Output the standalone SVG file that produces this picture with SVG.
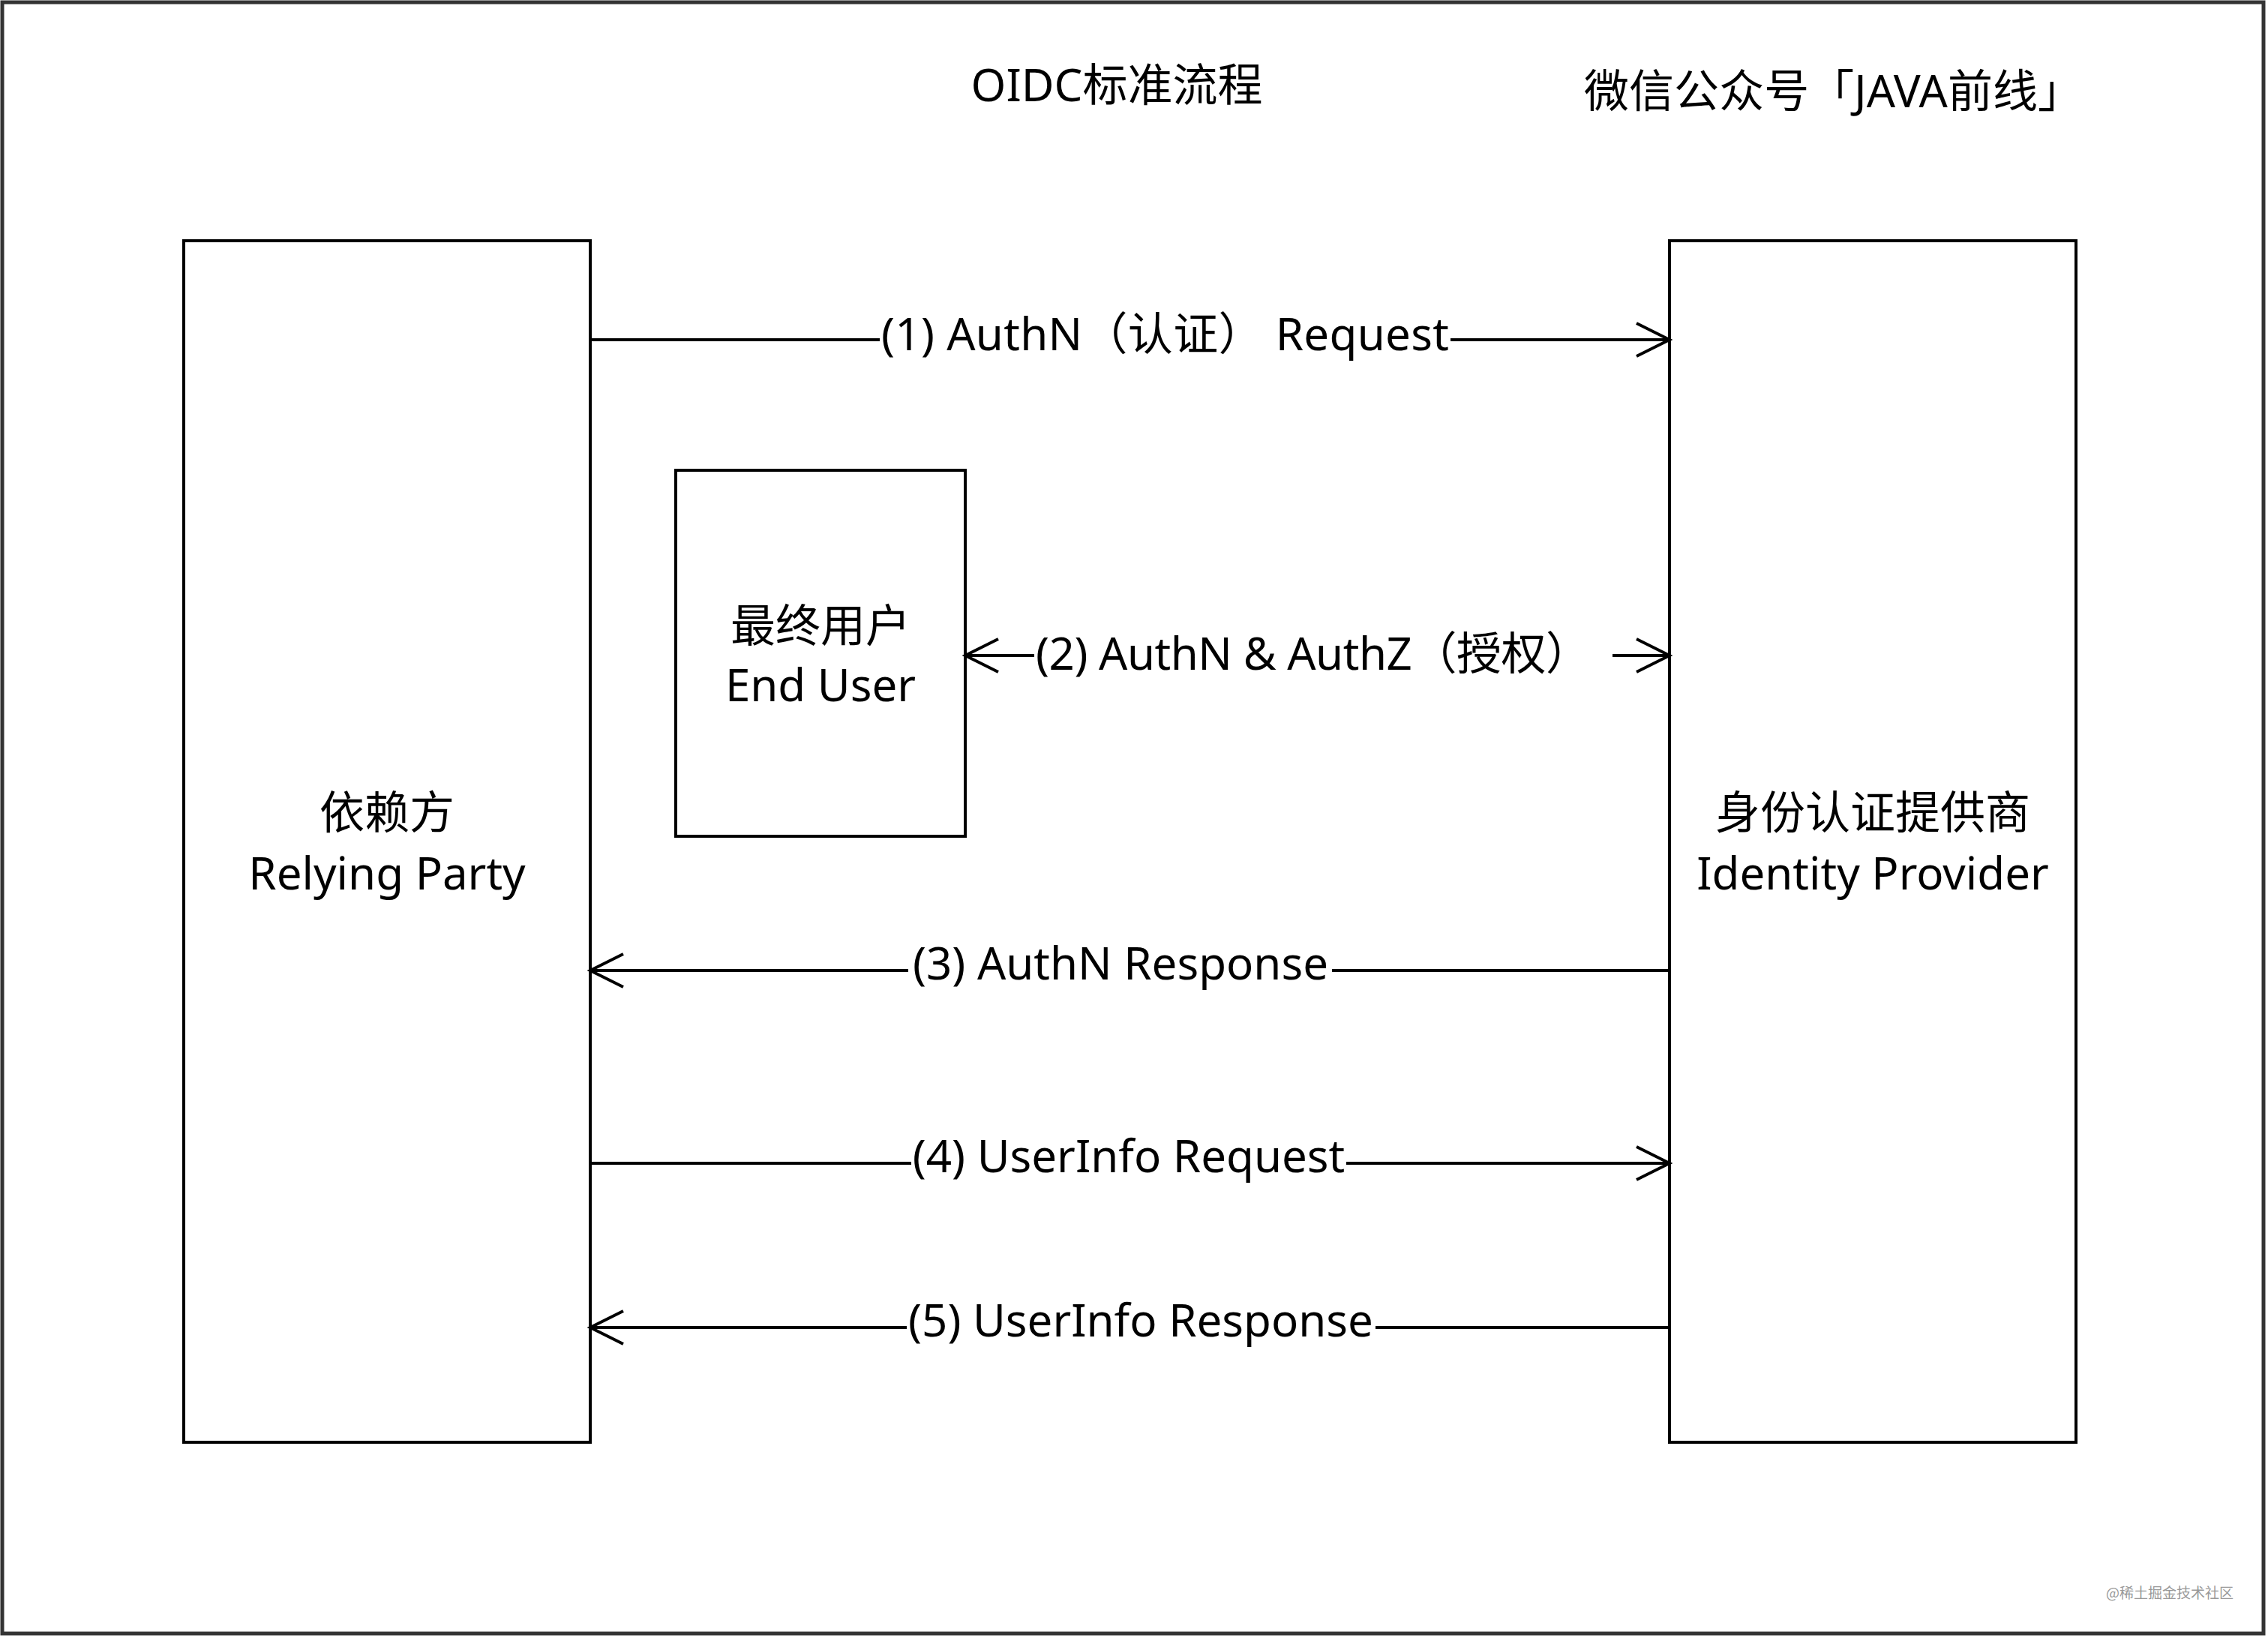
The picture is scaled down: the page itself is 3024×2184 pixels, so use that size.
<svg xmlns="http://www.w3.org/2000/svg" width="3024" height="2184" viewBox="0 0 3024 2184">
<defs>
<style>
.t{font-family:"Noto Sans","Noto Sans CJK SC",sans-serif;font-size:60px;fill:#000;}
.box{fill:#fff;stroke:#000;stroke-width:4;}
.ln{stroke:#000;stroke-width:4;fill:none;}
</style>
<marker id="ah" markerWidth="50" markerHeight="50" refX="46" refY="24" orient="auto" markerUnits="userSpaceOnUse">
<path d="M2,2 L46,24 L2,46" fill="none" stroke="#000" stroke-width="4"/>
</marker>
<marker id="ahs" markerWidth="50" markerHeight="50" refX="4" refY="24" orient="auto" markerUnits="userSpaceOnUse">
<path d="M48,2 L4,24 L48,46" fill="none" stroke="#000" stroke-width="4"/>
</marker>
</defs>
<rect x="0" y="0" width="3024" height="2184" fill="#fff"/>
<rect x="3" y="3" width="3015" height="2175" fill="none" stroke="#333" stroke-width="5"/>
<g id="title">
<text class="t" x="1489" y="135" text-anchor="middle">OIDC标准流程</text>
</g>
<g id="credit">
<text class="t" x="2112" y="143" textLength="665" lengthAdjust="spacing">微信公众号「JAVA前线」</text>
</g>
<g id="relying-party">
<rect class="box" x="245" y="321" width="542" height="1602"/>
<text class="t" x="516" y="1105" text-anchor="middle">依赖方</text>
<text class="t" x="516" y="1186" text-anchor="middle">Relying Party</text>
</g>
<g id="identity-provider">
<rect class="box" x="2226" y="321" width="542" height="1602"/>
<text class="t" x="2497" y="1105" text-anchor="middle">身份认证提供商</text>
<text class="t" x="2497" y="1186" text-anchor="middle">Identity Provider</text>
</g>
<g id="end-user">
<rect class="box" x="901" y="627" width="386" height="488"/>
<text class="t" x="1094" y="856" text-anchor="middle">最终用户</text>
<text class="t" x="1094" y="935" text-anchor="middle">End User</text>
</g>
<g id="connectors">
<line class="ln" x1="787" y1="453" x2="1173" y2="453"/>
<line class="ln" x1="1934" y1="453" x2="2226" y2="453" marker-end="url(#ah)"/>
<text class="t" x="1175" y="467" textLength="757" lengthAdjust="spacing">(1) AuthN（认证） Request</text>

<line class="ln" x1="1287" y1="874" x2="1379" y2="874" marker-start="url(#ahs)"/>
<line class="ln" x1="2150" y1="874" x2="2226" y2="874" marker-end="url(#ah)"/>
<text class="t" x="1381" y="893" textLength="740" lengthAdjust="spacing">(2) AuthN &amp; AuthZ（授权）</text>

<line class="ln" x1="787" y1="1294" x2="1211" y2="1294" marker-start="url(#ahs)"/>
<line class="ln" x1="1776" y1="1294" x2="2226" y2="1294"/>
<text class="t" x="1494" y="1306" text-anchor="middle">(3) AuthN Response</text>

<line class="ln" x1="787" y1="1551" x2="1215" y2="1551"/>
<line class="ln" x1="1795" y1="1551" x2="2226" y2="1551" marker-end="url(#ah)"/>
<text class="t" x="1505" y="1563" text-anchor="middle">(4) UserInfo Request</text>

<line class="ln" x1="787" y1="1770" x2="1209" y2="1770" marker-start="url(#ahs)"/>
<line class="ln" x1="1834" y1="1770" x2="2226" y2="1770"/>
<text class="t" x="1521" y="1782" text-anchor="middle">(5) UserInfo Response</text>
</g>
<text x="2893" y="2131" text-anchor="middle" style="font-family:'Noto Sans CJK SC',sans-serif;font-size:19px;fill:#999;">@稀土掘金技术社区</text>
</svg>
